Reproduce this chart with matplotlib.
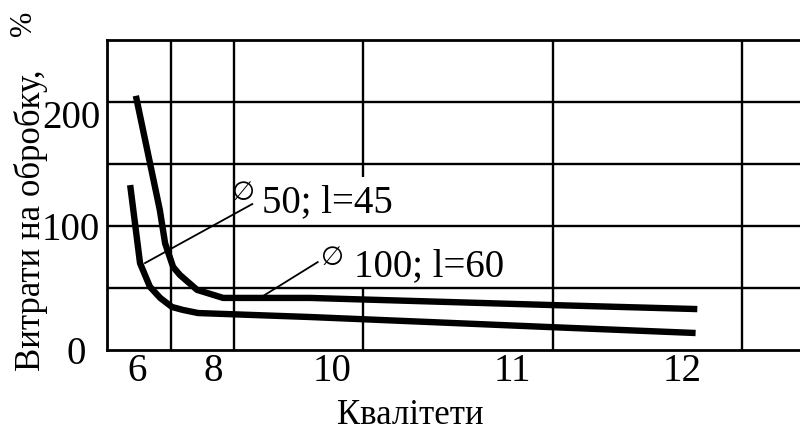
import numpy as np
import matplotlib
matplotlib.use("Agg")
import matplotlib.pyplot as plt
from matplotlib.transforms import ScaledTranslation

# ---- data ----
grade_ticks = [6, 8, 10, 11, 12]
grade_tick_labels = ["6", "8", "10", "11", "12"]
y_ticks = [0, 100, 200]

# curve for diameter 100, l=60 (upper)
d100_x = [5.97, 6.60, 6.74, 6.95, 7.13, 7.58, 8.17, 9.63, 11.22, 12.09]
d100_y = [205, 113, 86, 67, 60.5, 48.5, 42, 42, 36.3, 33]
# curve for diameter 50, l=45 (lower)
d50_x = [5.82, 6.08, 6.34, 6.61, 6.92, 7.21, 7.61, 9.63, 11.22, 12.08]
d50_y = [133, 70, 51, 42, 34.7, 32.3, 29.8, 26.6, 18.5, 13.7]

label_d50 = "50; l=45"
label_d100 = "100; l=60"
ylabel = "Витрати на обробку,"
xlabel = "Квалітети"

# ---- non-uniform scale of the hand drawn grade axis ----
_g = np.array([4.0, 6.0, 8.0, 10.0, 11.0, 12.0, 14.0])
_p = np.array([61.0, 137.0, 213.0, 332.0, 512.0, 682.0, 1022.0])


def fwd(x):
    return np.interp(x, _g, _p)


def inv(p):
    return np.interp(p, _p, _g)


serif = ["Liberation Serif", "DejaVu Serif"]
plt.rcParams["font.family"] = serif

fig = plt.figure(figsize=(8.0, 4.32), dpi=100)
ax = fig.add_axes([107 / 800, 1 - 350 / 432, (800 - 107) / 800, 310 / 432])
ax.set_xscale("function", functions=(fwd, inv))
ax.set_xlim(inv(107), inv(800))
ax.set_ylim(0, 250)

gw = 1.7
# grid
for yv in [50, 100, 150, 200]:
    ax.axhline(yv, color="black", lw=gw, zorder=1)
for xv in [6.89, 8.35, 11.24, 12.35]:
    ax.axvline(xv, color="black", lw=gw, zorder=1)
ax.vlines(10.17, 139.5, 250, color="black", lw=gw, zorder=1)
ax.vlines(10.17, 0, 50, color="black", lw=gw, zorder=1)

for s in ["left", "bottom", "top"]:
    ax.spines[s].set_linewidth(gw + 0.3)
ax.spines["right"].set_visible(False)

# curves
ax.plot(d100_x, d100_y, color="black", lw=4.6, solid_capstyle="butt",
        solid_joinstyle="round", zorder=3)
ax.plot(d50_x, d50_y, color="black", lw=4.6, solid_capstyle="butt",
        solid_joinstyle="round", zorder=3)

# leader lines
ax.plot([6.21, 8.66], [70.1, 117.7], color="black", lw=1.3, zorder=2)
ax.plot([8.84, 9.76], [43.5, 70.9], color="black", lw=1.3, zorder=2)

# labels with diameter sign
ax.text(8.52, 126.5, "∅", family=["DejaVu Sans"], fontsize=19,
        ha="center", va="center", zorder=4)
ax.text(8.82, 111.2, label_d50, fontsize=28, ha="left", va="baseline", zorder=4)
ax.text(10.0, 74.2, "∅", family=["DejaVu Sans"], fontsize=19,
        ha="center", va="center", zorder=4)
ax.text(10.12, 59.7, label_d100, fontsize=28, ha="left", va="baseline", zorder=4)

# ticks
ax.set_xticks(grade_ticks)
ax.set_xticklabels(grade_tick_labels)
ax.xaxis.set_minor_locator(matplotlib.ticker.NullLocator())
ax.set_yticks(y_ticks)
ax.set_yticklabels([str(v) for v in y_ticks])
ax.tick_params(axis="both", length=0, labelsize=28)
ax.tick_params(axis="x", pad=2)
ax.tick_params(axis="y", pad=5)

ylabs = ax.get_yticklabels()
ylabs[2].set_transform(ylabs[2].get_transform() +
                       ScaledTranslation(0, -0.12, fig.dpi_scale_trans))
ylabs[0].set_transform(ylabs[0].get_transform() +
                       ScaledTranslation(-0.14, 0, fig.dpi_scale_trans))

# axis titles
fig.text(31 / 800, 1 - 220 / 432, ylabel, rotation=90, fontsize=25,
         ha="center", va="center")
fig.text(24 / 800, 1 - 23 / 432, "%", rotation=90, fontsize=22,
         ha="center", va="center")
fig.text(410 / 800, 1 - 416 / 432, xlabel, fontsize=25, ha="center", va="center")

fig.savefig("out.png", dpi=100)
